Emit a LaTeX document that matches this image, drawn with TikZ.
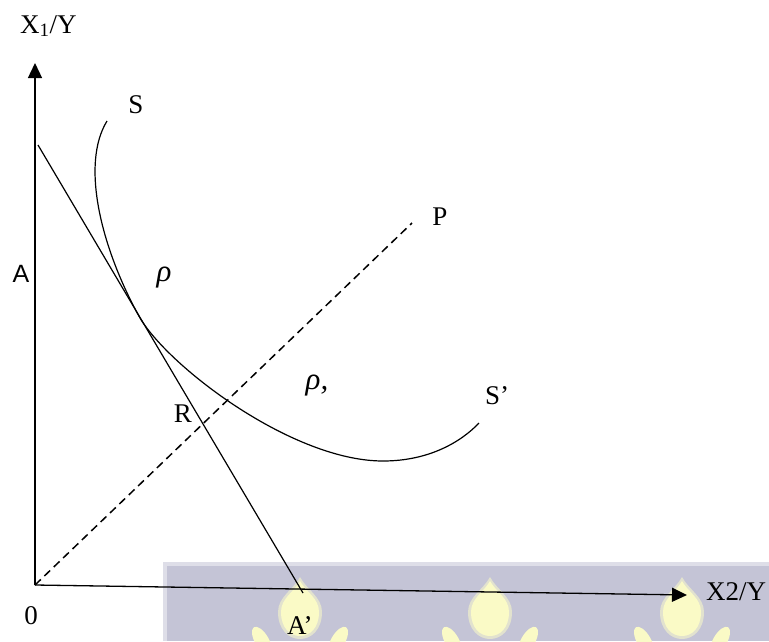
\documentclass[tikz,border=0pt]{standalone}
\usepackage{fontspec}
\setmainfont{Liberation Serif}
\newfontfamily\arialf{Liberation Sans}
\usetikzlibrary{arrows.meta}
\definecolor{band}{RGB}{196,196,214}
\definecolor{bandedge}{RGB}{222,222,232}
\definecolor{flame}{RGB}{250,250,198}
\definecolor{flameedge}{RGB}{226,226,206}
\begin{document}
\begin{tikzpicture}[x=1pt,y=-1pt,
  lbl/.style={inner sep=0pt, font=\fontsize{27}{32}\selectfont},
  axisline/.style={line width=1.3pt, -{Triangle[length=15pt,width=14pt]}},
  plainline/.style={line width=1.2pt},
  dashline/.style={line width=1.5pt, dash pattern=on 8pt off 5pt}]
\useasboundingbox (0,0) rectangle (769,641);
% watermark band
\fill[bandedge] (163,562) rectangle (769,641);
\fill[band] (167,566) rectangle (769,641);
\foreach \fx in {300,490,682}{
  \fill[flameedge] (\fx,577) .. controls ({\fx+7},590) and ({\fx+22},597) .. ({\fx+22},612)
     .. controls ({\fx+22},630) and ({\fx+11},639) .. (\fx,639)
     .. controls ({\fx-11},639) and ({\fx-22},630) .. ({\fx-22},612)
     .. controls ({\fx-22},597) and ({\fx-7},590) .. cycle;
  \fill[flame] (\fx,581) .. controls ({\fx+6},592) and ({\fx+19},598) .. ({\fx+19},612)
     .. controls ({\fx+19},628) and ({\fx+10},636) .. (\fx,636)
     .. controls ({\fx-10},636) and ({\fx-19},628) .. ({\fx-19},612)
     .. controls ({\fx-19},598) and ({\fx-6},592) .. cycle;
  \fill[flame, rotate around={30:({\fx-38},641)}] ({\fx-38},641) ellipse [x radius=7pt, y radius=16pt];
  \fill[flame, rotate around={-30:({\fx+38},641)}] ({\fx+38},641) ellipse [x radius=7pt, y radius=16pt];
}
% coordinates
\coordinate (O) at (35,585);
\coordinate (ytip) at (35,63);
\coordinate (xtip) at (687,595);
\coordinate (la) at (38,145);
\coordinate (lb) at (303,593);
\coordinate (pend) at (412,223);
\coordinate (s0) at (107,121);
\coordinate (s1) at (140,318);
\coordinate (s2) at (383,461);
\coordinate (s3) at (479,423);
% lines
\draw[axisline] (O) -- (ytip);
\draw[axisline] (O) -- (xtip);
\draw[plainline] (la) -- (lb);
\draw[dashline] (O) -- (pend);
\draw[plainline] (s0) .. controls (80,165) and (102,250) .. (s1)
   .. controls (170,368) and (293,461) .. (s2)
   .. controls (430,461) and (462,441) .. (s3);
% labels
\node[lbl, anchor=base west] (x1lab) at (20,33) {X\textsubscript{1}/Y};
\node[lbl] (slab) at (136,105) {S};
\node[lbl] (plab) at (440,217) {P};
\node[inner sep=0pt, font=\arialf\fontsize{25}{30}\selectfont] (alab) at (21,274) {A};
\node[inner sep=0pt, font=\fontsize{31}{34}\selectfont\itshape] (rho1) at (164,278) {ρ};
\node[inner sep=0pt, font=\fontsize{31}{34}\selectfont\itshape] (rho2) at (317,386) {ρ,};
\node[lbl, anchor=west] (s2lab) at (485,396) {S’};
\node[lbl] (rlab) at (183,414) {R};
\node[lbl] (olab) at (31,616) {0};
\node[lbl, anchor=west] (a2lab) at (287,626) {A’};
\node[lbl, anchor=west] (x2lab) at (706,592) {X2/Y};
\end{tikzpicture}
\end{document}
